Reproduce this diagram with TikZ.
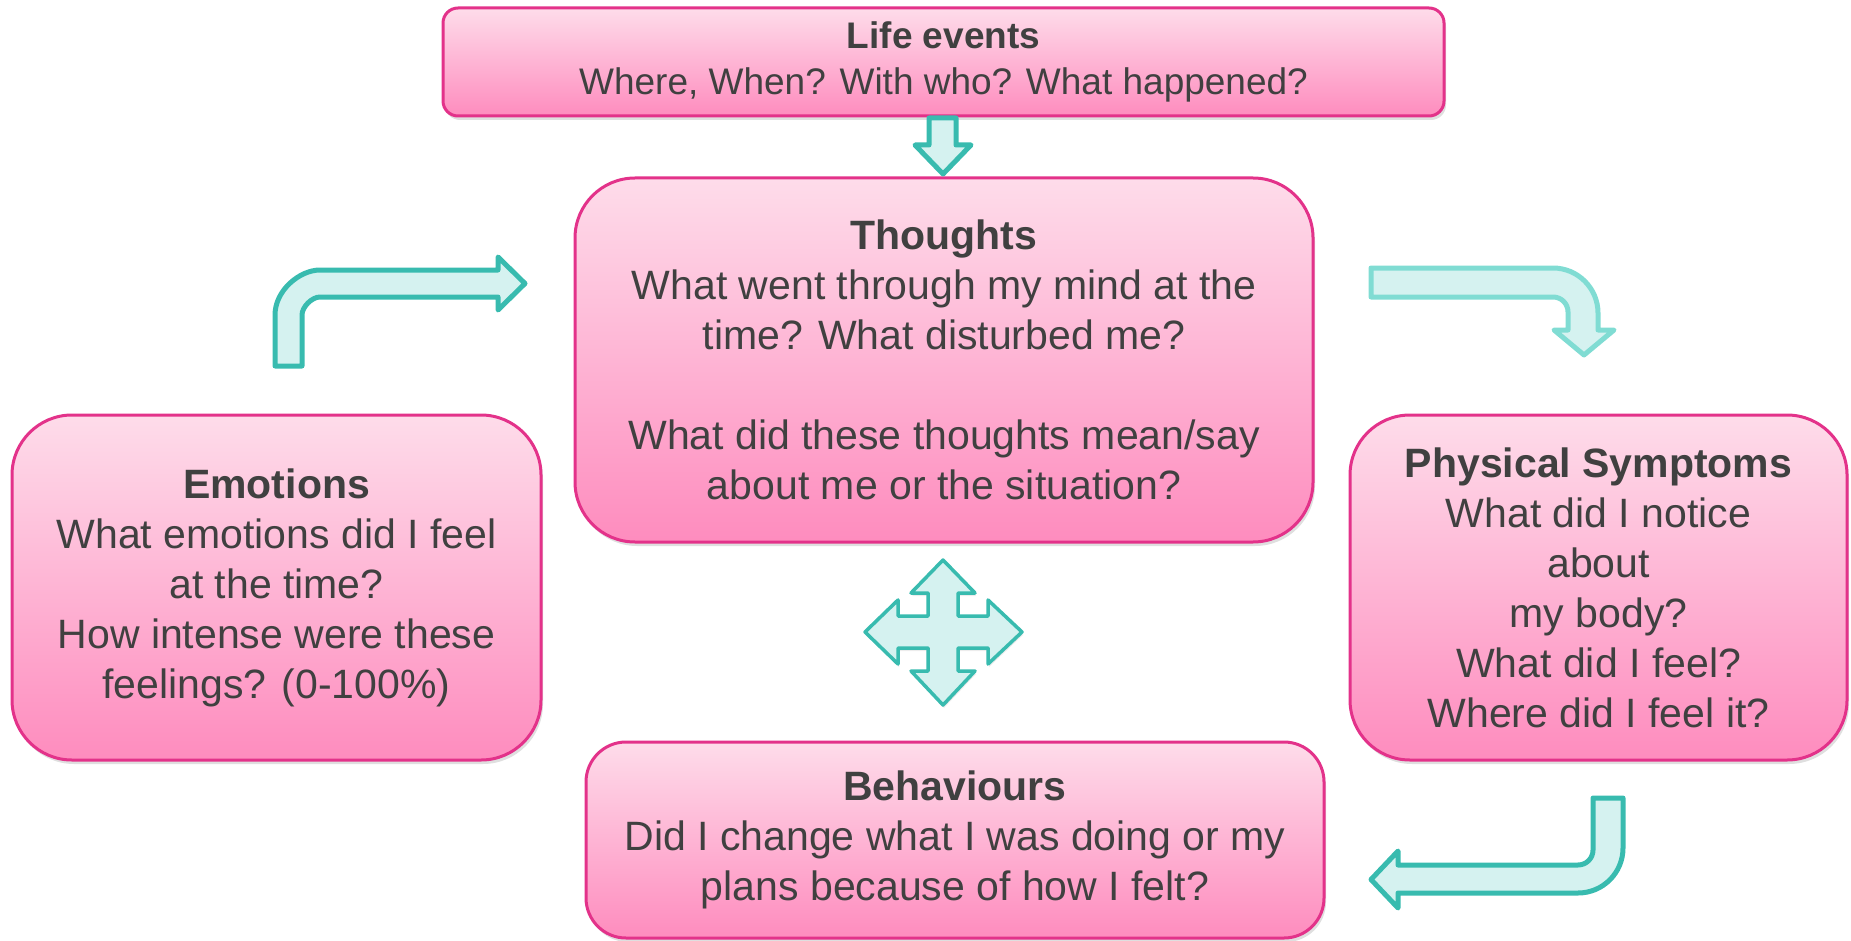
\documentclass[tikz,border=0pt]{standalone}
\usepackage{fontspec}
\setmainfont{Liberation Sans}
\usepackage{xcolor}
\usepackage{tikz}
\usetikzlibrary{shadows}
\definecolor{pinktop}{HTML}{FEDCEA}
\definecolor{pinkbot}{HTML}{FE8CBE}
\definecolor{pinkline}{HTML}{E3328A}
\definecolor{textgrey}{HTML}{404040}
\definecolor{tealline}{HTML}{38BBAF}
\definecolor{tealfill}{HTML}{D5F2F0}
\definecolor{lighttealline}{HTML}{80DCD3}

\begin{document}
\begin{tikzpicture}[x=1pt,y=-1pt]
    \tikzstyle{box}=[draw=pinkline, line width=3pt, top color=pinktop, bottom color=pinkbot,
        text=textgrey, align=center, inner sep=0pt,
        drop shadow={shadow xshift=2pt, shadow yshift=-4pt, opacity=0.25},
        font=\fontsize{41}{50}\selectfont]
    \tikzstyle{blockarrow}=[draw=tealline, fill=tealfill, line width=5pt, line join=round]
\useasboundingbox (0,0) rectangle (1851,941);
\node[box, rounded corners=15pt, minimum width=1001pt, minimum height=108pt,
    font=\fontsize{37}{46}\selectfont] (life) at (943.5,62)
    {\textbf{Life events}\\Where, When? With who? What happened?};
\node[box, rounded corners=60pt, minimum width=738pt, minimum height=364pt] (thoughts) at (944,360)
    {\textbf{Thoughts}\\What went through my mind at the\\time? What disturbed me?\\[50pt]
    What did these thoughts mean/say\\about me or the situation?};
\node[box, rounded corners=60pt, minimum width=529pt, minimum height=345pt] (emotions) at (276.5,587.5)
    {\textbf{Emotions}\\What emotions did I feel\\at the time?\\How intense were these\\feelings? (0-100\%)};
\node[box, rounded corners=60pt, minimum width=497pt, minimum height=345pt] (physical) at (1598.5,587.5)
    {\textbf{Physical Symptoms}\\What did I notice\\about\\my body?\\What did I feel?\\Where did I feel it?};
\node[box, rounded corners=40pt, minimum width=738pt, minimum height=196pt] (behaviours) at (955,840)
    {\textbf{Behaviours}\\Did I change what I was doing or my\\plans because of how I felt?};
\draw[blockarrow] (929,118) -- (956,118) -- (956,145) -- (971,145) -- (943,174) -- (915,145)
    -- (929,145) -- cycle;
\draw[blockarrow] (275,366) -- (275,315) .. controls (275,290.2) and (299.8,270) .. (320,270)
    -- (498,270) -- (498,257) -- (525,283.5) -- (498,310) -- (498,297) -- (320,297)
    .. controls (311.9,297) and (302,306.9) .. (302,315) -- (302,366) -- cycle;
\draw[blockarrow, draw=lighttealline] (1371,268) -- (1553,268) .. controls (1577.8,268) and (1598,288.2) .. (1598,313)
    -- (1598,330) -- (1614,330) -- (1584,355) -- (1554,330) -- (1568,330) -- (1568,312)
    .. controls (1568,303.7) and (1561.3,297) .. (1553,297) -- (1371,297) -- cycle;
\draw[blockarrow] (1593,798) -- (1623,798) -- (1623,848) .. controls (1623,872.9) and (1602.9,893) .. (1578,893)
    -- (1398,893) -- (1398,908) -- (1371,879.5) -- (1398,851) -- (1398,865) -- (1578,865)
    .. controls (1586.3,865) and (1593,858.3) .. (1593,850) -- cycle;
\draw[blockarrow, line width=3.5pt, drop shadow={shadow xshift=1pt, shadow yshift=-3pt, opacity=0.15}, shift={(943,632)}]
    (0,-72) -- (32,-39) -- (15,-39) -- (15,-16) -- (45,-16) -- (45,-32) -- (79,0) -- (45,32)
    -- (45,16) -- (15,16) -- (15,39) -- (32,39) -- (0,73) -- (-32,39) -- (-15,39) -- (-15,16)
    -- (-45,16) -- (-45,32) -- (-78,0) -- (-45,-32) -- (-45,-16) -- (-15,-16) -- (-15,-39)
    -- (-32,-39) -- cycle;
\end{tikzpicture}
\end{document}
